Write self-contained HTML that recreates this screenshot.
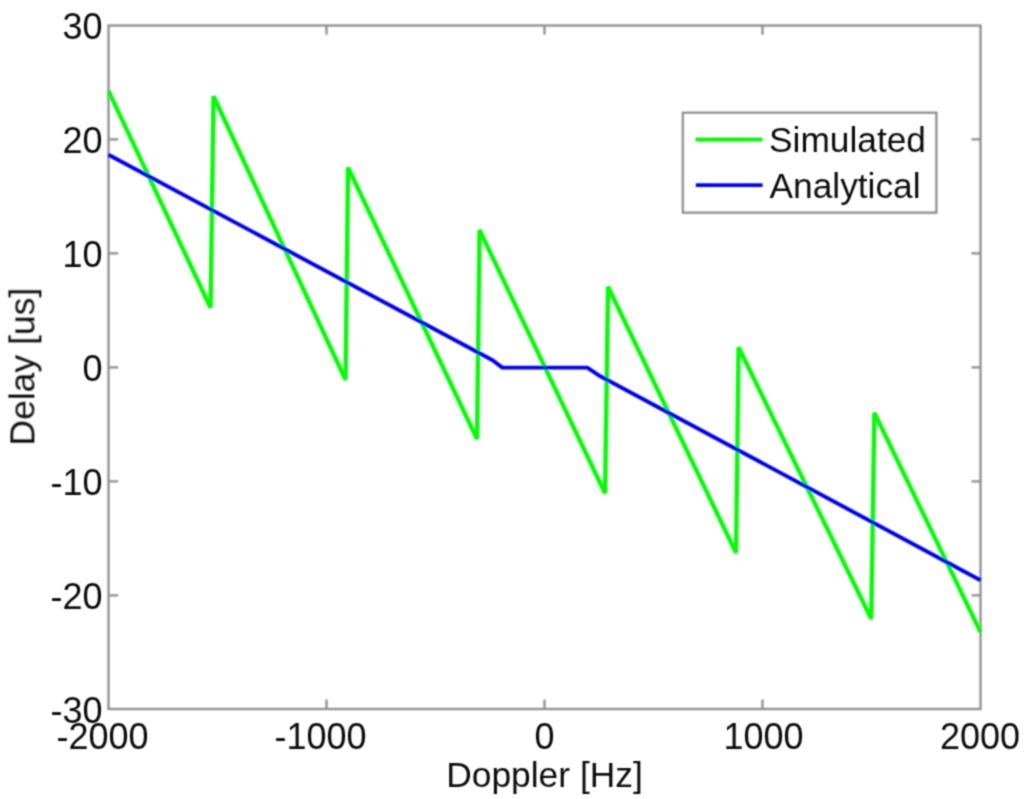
<!DOCTYPE html>
<html><head><meta charset="utf-8"><style>
html,body{margin:0;padding:0;background:#fff;}
svg{display:block;}
text{font-family:"Liberation Sans",sans-serif;font-size:36px;fill:#111;}
</style></head><body>
<svg width="1024" height="799" viewBox="0 0 1024 799">
<defs>
<clipPath id="cp"><rect x="107.5" y="20" width="874" height="695"/></clipPath>
<filter id="bl" x="-5%" y="-5%" width="110%" height="110%"><feConvolveMatrix order="3" kernelMatrix="0.0625 0.1250 0.0625 0.1250 0.2500 0.1250 0.0625 0.1250 0.0625" divisor="1" edgeMode="none"/></filter>
<filter id="ba" x="-5%" y="-5%" width="110%" height="110%"><feConvolveMatrix order="3" kernelMatrix="0.0784 0.1232 0.0784 0.1232 0.1936 0.1232 0.0784 0.1232 0.0784" divisor="1" edgeMode="none"/></filter>
<filter id="bt" x="-5%" y="-5%" width="110%" height="110%"><feConvolveMatrix order="3" kernelMatrix="0.0400 0.1200 0.0400 0.1200 0.3600 0.1200 0.0400 0.1200 0.0400" divisor="1" edgeMode="none"/></filter>
</defs>
<rect x="0" y="0" width="1024" height="799" fill="#fff"/>
<g filter="url(#ba)">
<rect x="108.5" y="25.5" width="872" height="683.5" fill="none" stroke="#8e8e8e" stroke-width="2.3"/>
<path d="M108.5 139.4H118.2M980.5 139.4H971.5M108.5 253.4H118.2M980.5 253.4H971.5M108.5 367.4H118.2M980.5 367.4H971.5M108.5 481.4H118.2M980.5 481.4H971.5M108.5 595.4H118.2M980.5 595.4H971.5M326.5 709V699.4M326.5 25.5V34.8M544.5 709V699.4M544.5 25.5V34.8M762.5 709V699.4M762.5 25.5V34.8" stroke="#8e8e8e" stroke-width="2.3" fill="none"/>
</g>
<g filter="url(#bl)">
<g clip-path="url(#cp)">
<polyline points="108.50,91.00 210.50,307.75 213.50,96.25 345.50,379.75 348.00,167.50 477.00,439.00 479.50,230.00 605.00,493.25 608.00,286.75 736.00,552.75 738.50,347.25 871.20,618.75 874.30,412.75 980.50,632.00" fill="none" stroke="#00ff00" stroke-width="4.3" stroke-linejoin="miter"/>
<polyline points="108.50,154.70 492.60,360.20 502.30,367.60 587.30,367.60 598.50,375.20 980.50,580.20" fill="none" stroke="#0000ff" stroke-width="3.9" stroke-linejoin="round"/>
</g>
</g>
<g filter="url(#ba)">
<rect x="682.9" y="112.8" width="253.4" height="99.8" fill="#fff" stroke="#8e8e8e" stroke-width="2.4"/>
</g>
<g filter="url(#bl)">
<line x1="695.5" y1="139.5" x2="762.5" y2="139.5" stroke="#00ff00" stroke-width="3.8"/>
<line x1="695.8" y1="185.2" x2="762.6" y2="185.2" stroke="#0000ff" stroke-width="3.8"/>
</g>
<g filter="url(#bt)">
<text x="102.5" y="39.0" text-anchor="end">30</text><text x="102.5" y="153.0" text-anchor="end">20</text><text x="102.5" y="267.0" text-anchor="end">10</text><text x="102.5" y="381.0" text-anchor="end">0</text><text x="102.5" y="495.0" text-anchor="end">-10</text><text x="102.5" y="609.0" text-anchor="end">-20</text><text x="102.5" y="723.0" text-anchor="end">-30</text>
<text x="102.5" y="748.8" text-anchor="middle">-2000</text><text x="320.5" y="748.8" text-anchor="middle">-1000</text><text x="544.5" y="748.8" text-anchor="middle">0</text><text x="763.5" y="748.8" text-anchor="middle">1000</text><text x="980" y="748.8" text-anchor="middle">2000</text>
<text x="544.5" y="786.6" text-anchor="middle" style="font-size:35.4px">Doppler [Hz]</text>
<text transform="translate(34.4,366.6) rotate(-90)" text-anchor="middle" style="font-size:35.5px">Delay [us]</text>
<text x="769" y="151.5" style="font-size:35.3px">Simulated</text>
<text x="769.5" y="198" style="font-size:35.3px">Analytical</text>
</g>
</svg>
</body></html>
